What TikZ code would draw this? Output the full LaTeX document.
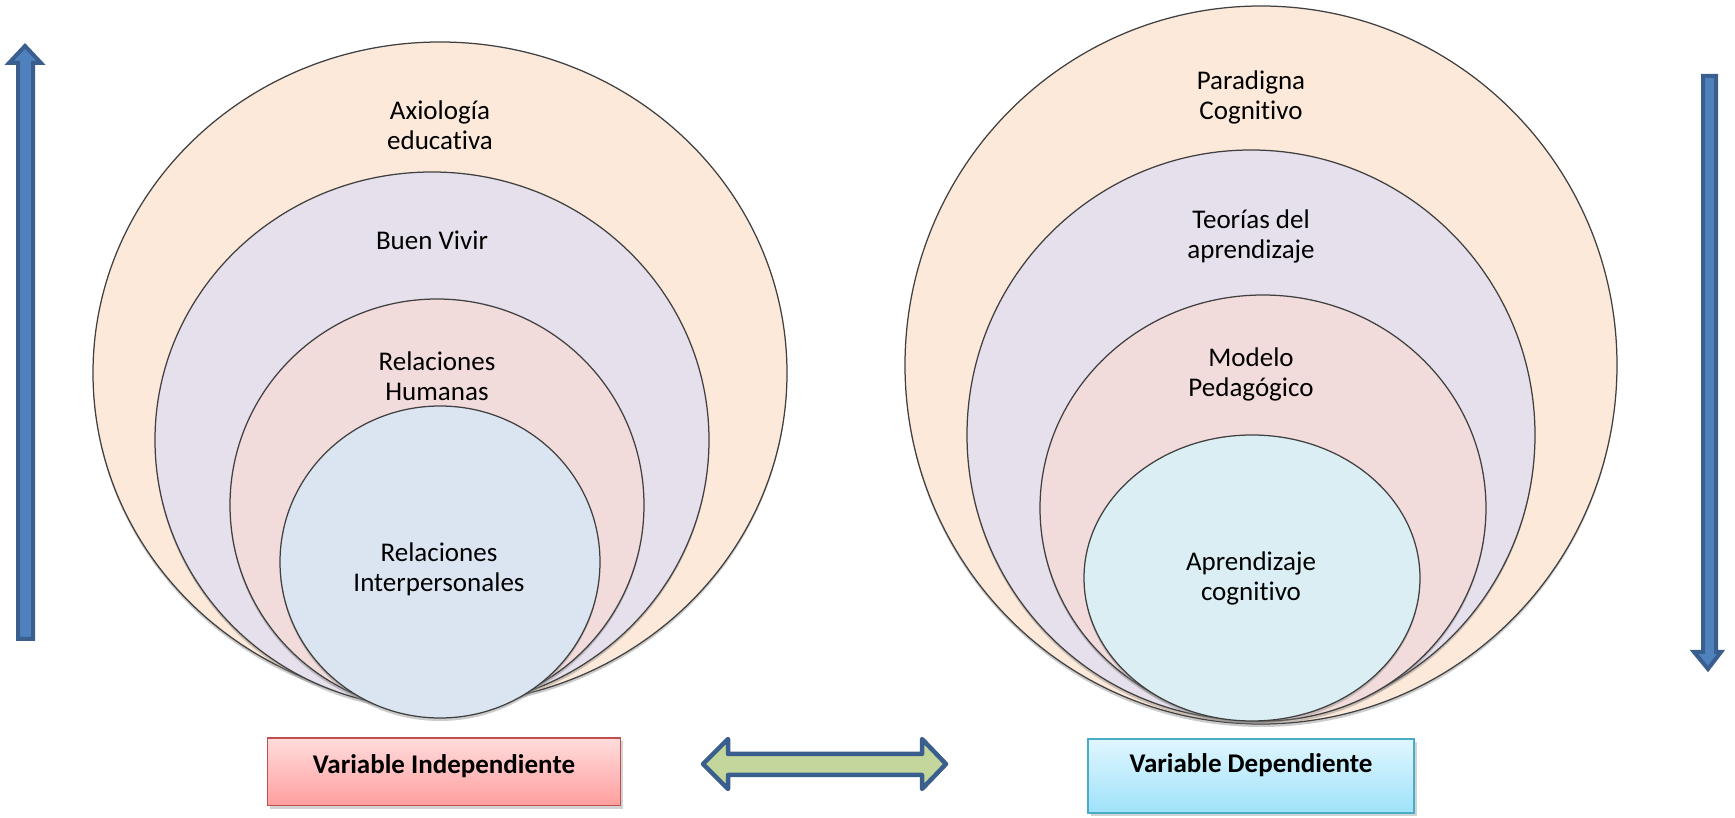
\documentclass[tikz,border=0pt]{standalone}
\usepackage{fontspec}
\setmainfont{Carlito}[Ligatures=NoCommon]
\usetikzlibrary{shadows}
\definecolor{peach}{HTML}{FDE9D9}
\definecolor{lavender}{HTML}{E5E0EC}
\definecolor{rose}{HTML}{F2DCDB}
\definecolor{paleblue}{HTML}{DBE5F1}
\definecolor{palecyan}{HTML}{DAEEF3}
\definecolor{arrowfill}{HTML}{4F81BD}
\definecolor{arrowedge}{HTML}{3A5F8F}
\definecolor{greenfill}{HTML}{C3D69B}
\definecolor{redtop}{HTML}{FFDCDC}
\definecolor{redbot}{HTML}{FF9E9E}
\definecolor{redline}{HTML}{C0504D}
\definecolor{bluetop}{HTML}{E0F6FF}
\definecolor{bluebot}{HTML}{9FE2FA}
\definecolor{blueline}{HTML}{4BACC6}
\def \ringLine {0.5pt}
\begin{document}
\begin{tikzpicture}[x=0.4pt, y=-0.4pt,
    ring/.style={draw=black!75, line width=\ringLine,
      drop shadow={shadow xshift=0pt, shadow yshift=-1.2pt, opacity=0.4}},
    lbl/.style={align=center, font=\fontsize{10.8}{12}\selectfont},
    varbox/.style={font=\bfseries\fontsize{10.8}{12}\selectfont, line width=0.6pt,
      text height=7.4pt, drop shadow={shadow xshift=1pt, shadow yshift=-1.2pt, opacity=0.35}},
    vbar/.style={draw=arrowedge, fill=arrowfill, line width=1.6pt, line join=miter},
    dblbar/.style={draw=arrowedge, fill=greenfill, line width=1.8pt, line join=round}]
  \useasboundingbox (0,0) rectangle (1735,818);

  % independent variable
  \filldraw[ring, fill=peach]    (440,373) ellipse [x radius=347, y radius=331];
  \filldraw[ring, fill=lavender] (432,440) ellipse [x radius=277, y radius=268];
  \filldraw[ring, fill=rose]     (437,505) ellipse [x radius=207, y radius=206];
  \filldraw[ring, fill=paleblue] (440,562) ellipse [x radius=160, y radius=156];
  \node[lbl] (axiologia) at (440,125) {Axiología\\educativa};
  \node[lbl] (buenvivir) at (432,240) {Buen Vivir};
  \node[lbl] (humanas) at (437,376) {Relaciones\\Humanas};
  \node[lbl] (interpers) at (439,569) {Relaciones\\Interpersonales};

  % dependent variable
  \filldraw[ring, fill=peach]    (1261,365) ellipse [x radius=356, y radius=359];
  \filldraw[ring, fill=lavender] (1251,435) ellipse [x radius=284, y radius=285];
  \filldraw[ring, fill=rose]     (1263,508) ellipse [x radius=223, y radius=213];
  \filldraw[ring, fill=palecyan] (1252,578) ellipse [x radius=168, y radius=143];
  \node[lbl] (paradigma) at (1251,97) {Paradigna\\Cognitivo};
  \node[lbl] (teorias) at (1251,236) {Teorías del\\aprendizaje};
  \node[lbl] (modelo) at (1251,374) {Modelo\\Pedagógico};
  \node[lbl] (cognitivo) at (1251,578) {Aprendizaje\\cognitivo};

  \node[varbox, draw=redline, top color=redtop, bottom color=redbot,
    minimum width=141pt, minimum height=27pt, text depth=6pt] (indep) at (444,772) {Variable Independiente};
  \node[varbox, draw=blueline, top color=bluetop, bottom color=bluebot,
    minimum width=130.4pt, minimum height=29.6pt, text depth=10.4pt] (dep) at (1251,776) {Variable Dependiente};

  \draw[vbar] (25,46) -- (41,63) -- (33,63) -- (33,639) -- (18,639) -- (18,63) -- (9,63) -- cycle;
  \draw[vbar] (1708,669) -- (1721,652) -- (1716,652) -- (1716,76) -- (1703,76) -- (1703,652) -- (1694,652) -- cycle;
  \draw[dblbar] (703,764) -- (728,739) -- (728,754) -- (922,754) -- (922,739) -- (946,764)
    -- (922,789) -- (922,775) -- (728,775) -- (728,789) -- cycle;
\end{tikzpicture}
\end{document}
